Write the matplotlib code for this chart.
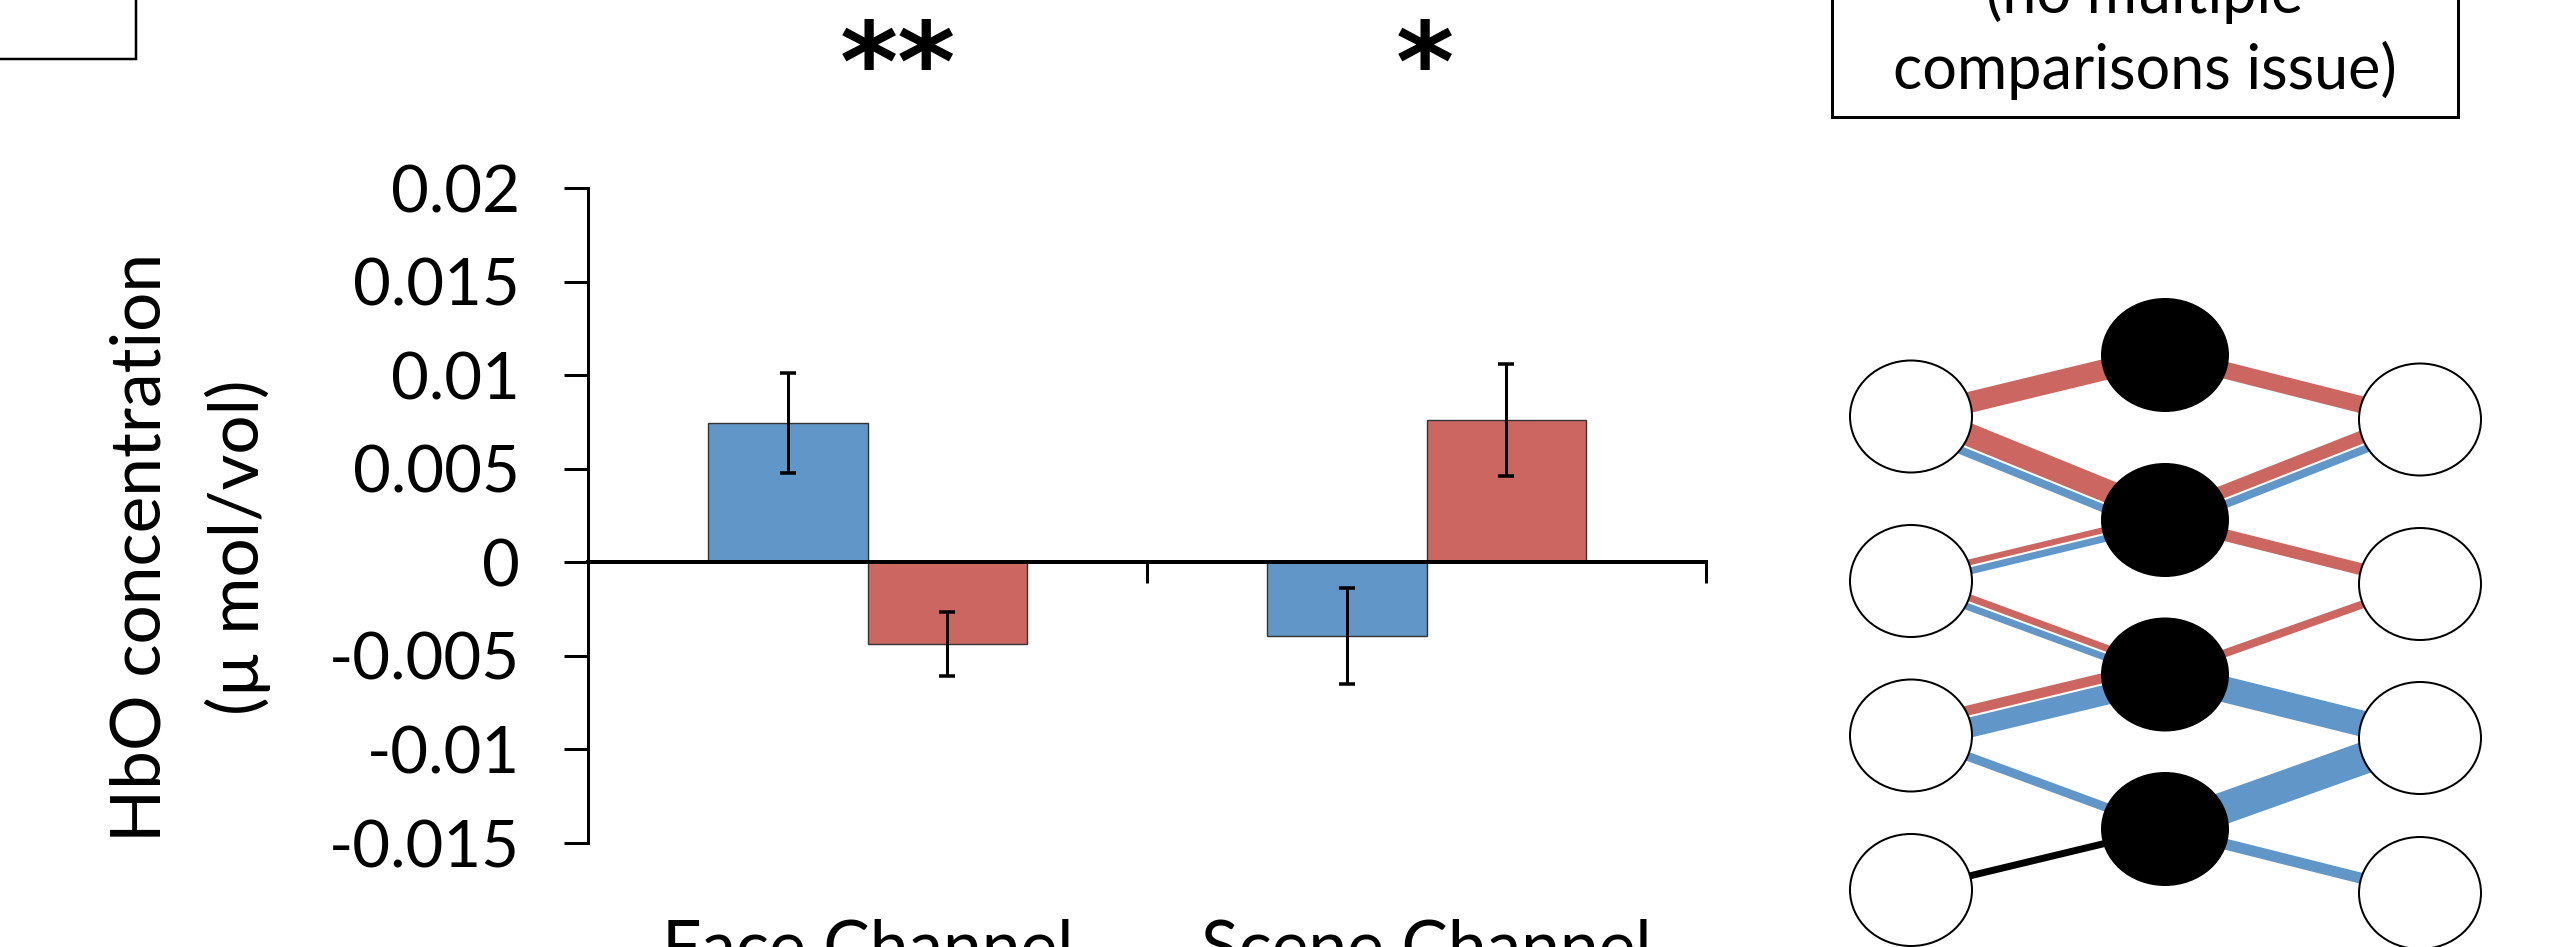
import matplotlib
matplotlib.use("Agg")
import matplotlib.pyplot as plt
import matplotlib.transforms as mtransforms
from matplotlib.patches import Ellipse, Polygon
import numpy as np

# ---------------- data ----------------
categories = ["Face Channel", "Scene Channel"]
blue_means = [0.00742, -0.00395]
blue_errs = [0.00267, 0.00255]
red_means = [-0.00437, 0.0076]
red_errs = [0.0017, 0.00298]
y_ticks = [-0.015, -0.01, -0.005, 0, 0.005, 0.01, 0.015, 0.02]
y_tick_labels = ["-0.015", "-0.01", "-0.005", "0", "0.005", "0.01", "0.015", "0.02"]
sig_labels = ["**", "*"]
y_label = "HbO concentration\n(\u00b5 mol/vol)"
box_lines = ["(no multiple", "comparisons issue)"]

# network edges: (outer side, outer node row, hub row, kind, weight)
edge_side = ["L", "L", "L", "L", "L", "L", "L", "L", "L", "L", "L",
             "R", "R", "R", "R", "R", "R", "R", "R"]
edge_outer = [0, 0, 0, 1, 1, 1, 1, 2, 2, 2, 3,
              0, 0, 0, 1, 1, 2, 2, 3]
edge_hub = [0, 1, 1, 1, 1, 2, 2, 2, 2, 3, 3,
            0, 1, 1, 1, 2, 2, 3, 3]
edge_kind = ["red", "red", "blue", "red", "blue", "red", "blue", "red", "blue", "blue", "black",
             "red", "red", "blue", "red", "red", "blue", "blue", "blue"]
edge_weight = [21, 23, 8, 6, 7, 7, 7, 10, 20, 9, 7,
               17, 13, 8, 12, 8, 26, 32, 11]

# ---------------- layout / style ----------------
W, H, DPI = 2563, 947, 100
PX = 72.0 / DPI  # points per pixel
BLUE = "#6196C8"
RED = "#CC6660"
KIND_COLOR = {"red": RED, "blue": BLUE, "black": "black"}
FONT = ["Lato", "DejaVu Sans"]
plt.rcParams["font.family"] = FONT

fig = plt.figure(figsize=(W / DPI, H / DPI), dpi=DPI)
fig.patch.set_facecolor("white")

# bar chart axes (pixel box: x 588..1706, y 188..843)
ax_l, ax_r, ax_t, ax_b = 588, 1706, 188, 843
ax = fig.add_axes([ax_l / W, (H - ax_b) / H, (ax_r - ax_l) / W, (ax_b - ax_t) / H])
ax.set_xlim(-0.5, len(categories) - 0.5)
ax.set_ylim(-0.015, 0.02)

bw = 0.286
x = np.arange(len(categories))
ax.bar(x - bw / 2, blue_means, bw, color=BLUE, edgecolor="#333333", linewidth=1.0, zorder=2)
ax.bar(x + bw / 2, red_means, bw, color=RED, edgecolor="#333333", linewidth=1.0, zorder=2)
ekw = dict(fmt="none", ecolor="black", elinewidth=3 * PX, capsize=8 * PX,
           capthick=3.5 * PX, zorder=4)
ax.errorbar(x - bw / 2, blue_means, yerr=blue_errs, **ekw)
ax.errorbar(x + bw / 2, red_means, yerr=red_errs, **ekw)

for s in ["top", "right"]:
    ax.spines[s].set_visible(False)
ax.spines["left"].set_linewidth(3 * PX)
ax.spines["bottom"].set_position(("data", 0))
ax.spines["bottom"].set_linewidth(4 * PX)
ax.spines["bottom"].set_zorder(3)
ax.spines["left"].set_bounds(-0.015, 0.02)

ax.set_yticks(y_ticks)
ax.set_yticklabels(y_tick_labels)
ax.tick_params(axis="y", direction="out", length=24 * PX, width=3 * PX,
               pad=44 * PX, labelsize=47)
ax.set_xticks(np.arange(len(categories) + 1) - 0.5)
ax.set_xticklabels([])
ax.tick_params(axis="x", direction="out", length=21 * PX, width=3 * PX)
ax.patch.set_alpha(0)

# overlay axes in pixel coordinates
ov = fig.add_axes([0, 0, 1, 1], zorder=5)
ov.set_xlim(0, W)
ov.set_ylim(H, 0)
ov.axis("off")
ov.patch.set_alpha(0)

# category labels (low position)
blend = mtransforms.blended_transform_factory(ax.transData, ov.transData)
for i, c in enumerate(categories):
    ax.text(i, 918, c, transform=blend, ha="center", va="top", fontsize=50)

# significance marks
sig_dx = [30, -2]
for i, s in enumerate(sig_labels):
    t = blend + mtransforms.ScaledTranslation(sig_dx[i] / DPI, 0, fig.dpi_scale_trans)
    ax.text(i, 101, s, transform=t, ha="center", va="baseline", fontsize=80,
            fontweight="bold", family="DejaVu Sans")

# y label
ov.text(190, 547, y_label, rotation=90, ha="center", va="center",
        multialignment="center", fontsize=50, linespacing=1.6)

# boxes
ov.plot([0, 136, 136], [59, 59, -5], color="black", lw=2.5 * PX, solid_joinstyle="miter")
ov.plot([1832, 1832, 2458, 2458], [-5, 117, 117, -5], color="black", lw=3 * PX,
        solid_joinstyle="miter")
ov.text(2145, 13, box_lines[0], ha="center", va="baseline", fontsize=44)
ov.text(2145, 89, box_lines[1], ha="center", va="baseline", fontsize=44)

# network
left_x, hub_x, right_x = 1911, 2165, 2420
left_y = [416.5, 581, 735.5, 890]
hub_y = [355, 520, 674.5, 829]
right_y = [419.5, 584, 738, 893]
GAP = 2.0

groups = {}
for sd, o, hb, k, w in zip(edge_side, edge_outer, edge_hub, edge_kind, edge_weight):
    groups.setdefault((sd, o, hb), []).append((k, w))

order = {"red": 0, "black": 1, "blue": 2}
for (sd, o, hb), items in groups.items():
    if sd == "L":
        p = np.array([left_x, left_y[o]])
        q = np.array([hub_x, hub_y[hb]])
    else:
        p = np.array([hub_x, hub_y[hb]])
        q = np.array([right_x, right_y[o]])
    d = (q - p) / np.linalg.norm(q - p)
    n_up = np.array([d[1], -d[0]])
    items = sorted(items, key=lambda t: order[t[0]])
    total = sum(w for _, w in items) + GAP * (len(items) - 1)
    pos = total / 2.0
    for k, w in items:
        top = pos
        bot = pos - w
        pos -= w + GAP
        poly = [p + n_up * top, p + n_up * bot, q + n_up * bot, q + n_up * top]
        ov.add_patch(Polygon(poly, closed=True, facecolor=KIND_COLOR[k],
                             edgecolor="none", zorder=1))

for yy in left_y:
    ov.add_patch(Ellipse((left_x, yy), 122, 112, facecolor="white", edgecolor="black",
                         lw=2 * PX, zorder=3))
for yy in right_y:
    ov.add_patch(Ellipse((right_x, yy), 122, 112, facecolor="white", edgecolor="black",
                         lw=2 * PX, zorder=3))
for yy in hub_y:
    ov.add_patch(Ellipse((hub_x, yy), 128, 114, facecolor="black", edgecolor="none",
                         zorder=3))

fig.savefig("out.png", dpi=DPI, facecolor="white")
